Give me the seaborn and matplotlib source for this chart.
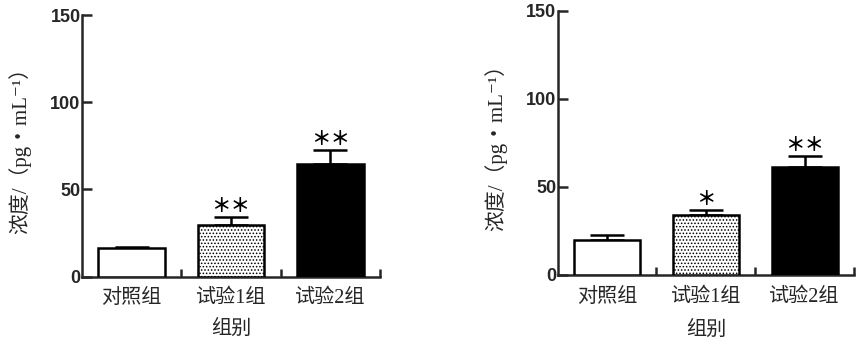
import matplotlib
matplotlib.use("Agg")
import matplotlib.pyplot as plt
import seaborn as sns
import pandas as pd
import numpy as np

# ---- data ----
categories = ["对照组", "试验1组", "试验2组"]
left_means = [16.3, 29.6, 64.4]
left_errs = [0.9, 4.5, 8.2]
left_marks = ["", "**", "**"]
right_means = [19.9, 34.0, 61.5]
right_errs = [2.6, 2.9, 6.2]
right_marks = ["", "*", "**"]
yticks = [0, 50, 100, 150]
ylabel = "浓度/（pg・mL⁻¹）"
xlabel = "组别"

sns.set_style("ticks")
plt.rcParams["font.family"] = ["Liberation Serif", "Noto Sans CJK SC", "DejaVu Serif", "DejaVu Sans"]
plt.rcParams["hatch.linewidth"] = 0.7
plt.rcParams["hatch.color"] = "black"

fig = plt.figure(figsize=(8.6, 3.45), dpi=100)
ax1 = fig.add_axes([0.0953, 0.198, 0.3466, 0.7585])
ax2 = fig.add_axes([0.6485, 0.203, 0.3445, 0.766])

palette = {categories[0]: "white", categories[1]: "white", categories[2]: "black"}
serif_cjk = ["Liberation Serif", "Noto Sans CJK SC", "DejaVu Serif", "DejaVu Sans"]


def draw(ax, means, errs, marks, ylab_x, xlab_y):
    df = pd.DataFrame({"group": categories, "value": means})
    sns.barplot(data=df, x="group", y="value", hue="group", palette=palette,
                dodge=False, legend=False, width=0.67, edgecolor="black",
                linewidth=1.8, errorbar=None, ax=ax, zorder=3)
    ax.patches[1].set_hatch(".....")
    xs = np.arange(len(categories))
    ax.errorbar(xs, means, yerr=[np.zeros(len(errs)), errs], fmt="none",
                ecolor="black", elinewidth=1.8, capsize=12, capthick=1.8, zorder=2)
    for x, m, e, t in zip(xs, means, errs, marks):
        if t:
            ax.text(x, m + e + 6.0, "＊" * len(t), ha="center", va="center",
                    fontsize=14, fontweight="bold", family=["Noto Sans CJK SC"],
                    color="black")
    ax.set_ylim(0, 150)
    ax.set_xlim(-0.5, 2.5)
    ax.set_yticks(yticks)
    ax.set_yticklabels([str(v) for v in yticks], family=["Liberation Sans"],
                       fontweight="bold", fontsize=13)
    ax.tick_params(axis="y", direction="in", length=7, width=1.8, pad=1)
    ax.set_xticks(xs)
    ax.set_xticklabels(categories, family=serif_cjk, fontsize=14.5)
    ax.tick_params(axis="x", which="major", length=0, pad=9)
    ax.set_xticks([0.5, 1.5, 2.5], minor=True)
    ax.tick_params(axis="x", which="minor", direction="in", length=6, width=1.8)
    sns.despine(ax=ax)
    for s in ["left", "bottom"]:
        ax.spines[s].set_linewidth(1.8)
    ax.set_ylabel(ylabel, family=serif_cjk, fontsize=15)
    ax.yaxis.set_label_coords(ylab_x, 0.5)
    ax.set_xlabel(xlabel, family=serif_cjk, fontsize=14.5)
    ax.xaxis.set_label_coords(0.5, xlab_y)


draw(ax1, left_means, left_errs, left_marks, -0.17, -0.165)
draw(ax2, right_means, right_errs, right_marks, -0.171, -0.172)

fig.savefig("out.png", dpi=100)
